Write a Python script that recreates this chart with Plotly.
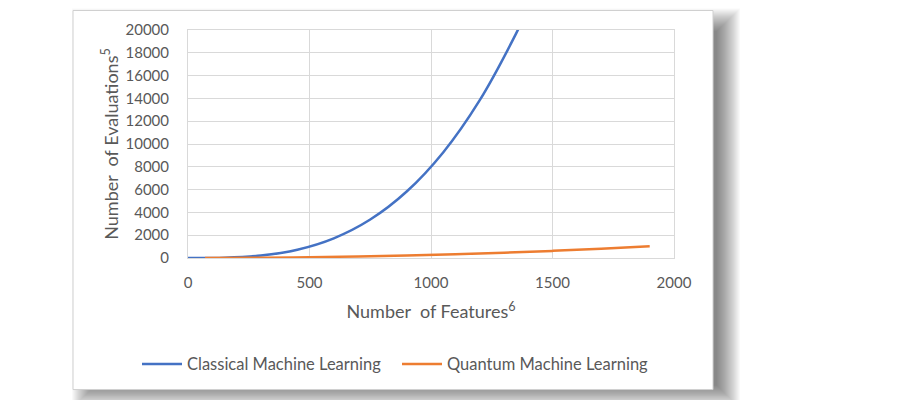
import plotly.graph_objects as go

# ---- data ----
classical_x = [0, 150, 300, 450, 600, 750, 900, 1050, 1200, 1350, 1400]
classical_y = [0, 27, 216, 729, 1728, 3375, 5832, 9261, 13824, 19683, 21952]

quantum_x = [70, 300, 500, 700, 900, 1100, 1300, 1500, 1700, 1900]
quantum_y = [1, 25, 70, 136, 225, 336, 470, 625, 803, 1030]

x_ticks = [0, 500, 1000, 1500, 2000]
y_ticks = [0, 2000, 4000, 6000, 8000, 10000, 12000, 14000, 16000, 18000, 20000]

OFF = 8  # page body margin of the browser
W, H = 898 - OFF, 400 - OFF
L, R, T, B = 188 - OFF, 898 - 674, 24 - OFF, 400 - 258
PW, PH = W - L - R, H - T - B

def px(x):
    return (x - OFF - L) / PW

def py(y):
    return (H - B - (y - OFF)) / PH

FONT = "Lato"
GRAY = "#595959"
GRID = "#d9d9d9"

fig = go.Figure()
fig.add_trace(go.Scatter(x=classical_x, y=classical_y, mode="lines",
                         name="Classical Machine Learning",
                         line=dict(color="#4472C4", width=2.5, shape="spline")))
fig.add_trace(go.Scatter(x=quantum_x, y=quantum_y, mode="lines",
                         name="Quantum Machine Learning",
                         line=dict(color="#ED7D31", width=2.5, shape="spline")))

shapes = []
# blurred drop shadow of the card
for e in range(18, -6, -1):
    shapes.append(dict(type="rect", xref="paper", yref="paper", layer="below",
                       x0=px(90 - e), x1=px(722 + e), y0=py(20 - e), y1=py(394 + e),
                       line=dict(width=0), fillcolor="rgba(0,0,0,0.024)"))
# the white card
shapes.append(dict(type="rect", xref="paper", yref="paper", layer="below",
                   x0=px(73), x1=px(713), y0=py(4), y1=py(393),
                   line=dict(color="#d0d0d0", width=1), fillcolor="white"))

fig.update_layout(
    width=W, height=H,
    margin=dict(l=L, r=R, t=T, b=B, pad=0),
    paper_bgcolor="white", plot_bgcolor="rgba(0,0,0,0)",
    font=dict(family=FONT, size=15, color=GRAY),
    shapes=shapes,
    showlegend=True,
    legend=dict(orientation="h", x=px(137), y=py(349), xanchor="left", yanchor="top",
                font=dict(family=FONT, size=16.5, color=GRAY),
                bgcolor="rgba(0,0,0,0)", itemwidth=40, traceorder="normal",
                entrywidth=205, entrywidthmode="pixels"),
)
fig.update_xaxes(range=[0, 2000], tickvals=x_ticks, ticktext=[str(v) for v in x_ticks],
                 showgrid=True, gridcolor=GRID, gridwidth=1,
                 showline=True, linecolor=GRID, mirror=True, zeroline=False,
                 ticks="", ticklabelstandoff=11,
                 tickfont=dict(family=FONT, size=15, color=GRAY),
                 title=dict(text="Number&nbsp;&nbsp;of Features<sup>6</sup>", standoff=15,
                            font=dict(family=FONT, size=18, color=GRAY)))
fig.update_yaxes(range=[0, 20000], tickvals=y_ticks, ticktext=[str(v) for v in y_ticks],
                 showgrid=True, gridcolor=GRID, gridwidth=1,
                 showline=True, linecolor=GRID, mirror=True, zeroline=False,
                 ticks="", ticklabelstandoff=15,
                 tickfont=dict(family=FONT, size=15, color=GRAY),
                 title=dict(text="Number&nbsp; of Evaluations<sup>5</sup>", standoff=2,
                            font=dict(family=FONT, size=18, color=GRAY)))

fig.write_html("out.html")
